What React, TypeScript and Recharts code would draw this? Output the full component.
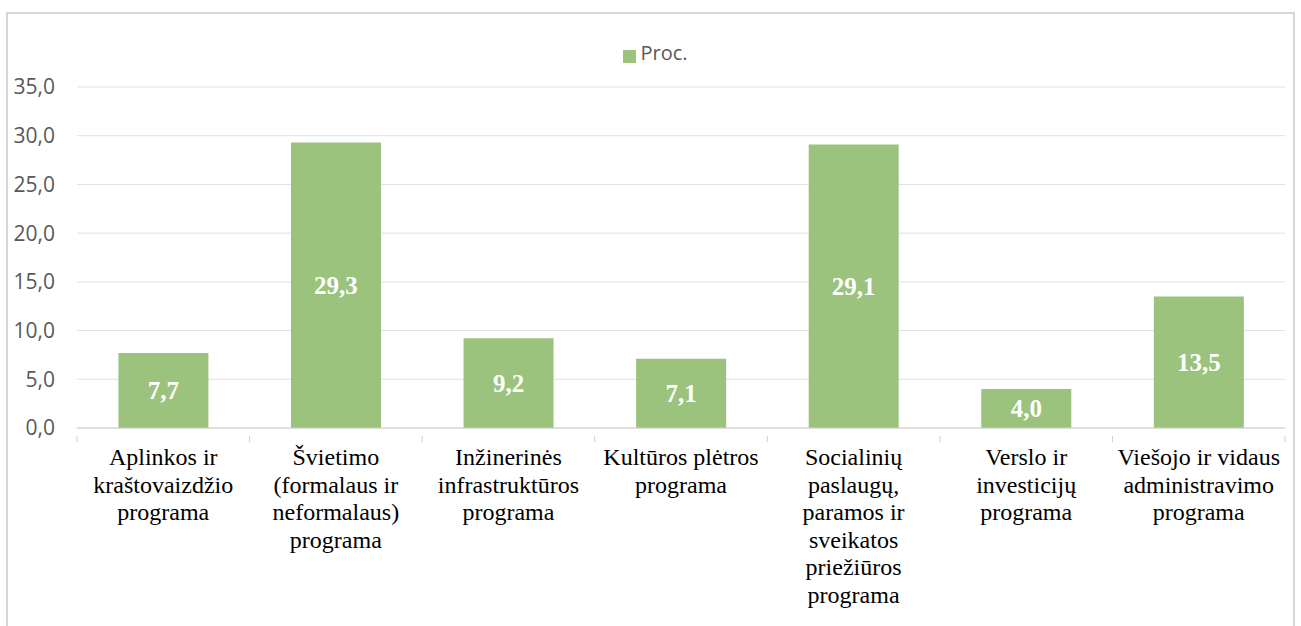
import { BarChart, Bar, XAxis, YAxis, CartesianGrid, Legend, LabelList } from 'recharts';

const programs = [
  'Aplinkos ir\nkraštovaizdžio\nprograma',
  'Švietimo\n(formalaus ir\nneformalaus)\nprograma',
  'Inžinerinės\ninfrastruktūros\nprograma',
  'Kultūros plėtros\nprograma',
  'Socialinių\npaslaugų,\nparamos ir\nsveikatos\npriežiūros\nprograma',
  'Verslo ir\ninvesticijų\nprograma',
  'Viešojo ir vidaus\nadministravimo\nprograma',
];

const procValues = [7.7, 29.3, 9.2, 7.1, 29.1, 4.0, 13.5];

const yTicks = [0, 5, 10, 15, 20, 25, 30, 35];

const data = programs.map((name, i) => ({ name, proc: procValues[i] }));

const fmt = (v: number) => v.toFixed(1).replace('.', ',');

const BAND = 1208 / programs.length;

function XTick(props: any) {
  const { x, y, payload, index } = props;
  const lines = String(payload.value).split('\n');
  return (
    <g>
      <line x1={x - BAND / 2} x2={x - BAND / 2} y1={y} y2={y + 6} stroke="#d0d0d0" />
      {index === programs.length - 1 && (
        <line x1={x + BAND / 2} x2={x + BAND / 2} y1={y} y2={y + 6} stroke="#d0d0d0" />
      )}
      <text
        textAnchor="middle"
        style={{ fontFamily: "'Liberation Serif', 'Times New Roman', serif", fontSize: 24, fill: '#000' }}
      >
        {lines.map((l, i) => (
          <tspan key={i} x={x} y={y + 29 + i * 27.6}>
            {l}
          </tspan>
        ))}
      </text>
    </g>
  );
}

export default function App() {
  return (
    <div style={{ position: 'fixed', left: 0, top: 0, width: 1301, height: 626, overflow: 'hidden', background: '#fff' }}>
      <div
        style={{
          position: 'absolute',
          left: 6,
          top: 12,
          right: 6,
          bottom: -20,
          border: '2px solid #d6d6d6',
        }}
      />
      <div style={{ position: 'absolute', left: 0, top: 0 }}>
        <BarChart
          width={1301}
          height={626}
          data={data}
          margin={{ top: 87, right: 16, bottom: 168, left: 0 }}
          barCategoryGap="24%"
        >
          <CartesianGrid vertical={false} stroke="#e0e0e0" />
          <XAxis
            dataKey="name"
            interval={0}
            height={30}
            tickLine={false}
            axisLine={{ stroke: '#d0d0d0' }}
            tick={<XTick />}
          />
          <YAxis
            width={77}
            domain={[0, 35]}
            ticks={yTicks}
            tickFormatter={fmt}
            axisLine={false}
            tickLine={false}
            tickSize={0}
            tickMargin={22}
            tick={{ fill: '#595959', fontSize: 21, fontFamily: "'Open Sans', sans-serif" }}
          />
          <Legend
            verticalAlign="middle"
            align="center"
            iconType="square"
            iconSize={13}
            wrapperStyle={{ top: 39, left: 10, width: 1301 }}
            formatter={(v) => (
              <span style={{ color: '#595959', fontSize: 20, fontFamily: "'Open Sans', sans-serif" }}>{v}</span>
            )}
          />
          <Bar dataKey="proc" name="Proc." fill="#9bc37d" isAnimationActive={false}>
            <LabelList
              dataKey="proc"
              position="center"
              formatter={(v: any) => fmt(Number(v))}
              fill="#fff"
              fontSize={25}
              fontWeight="bold"
              fontFamily="'Liberation Serif', serif"
            />
          </Bar>
        </BarChart>
      </div>
    </div>
  );
}
